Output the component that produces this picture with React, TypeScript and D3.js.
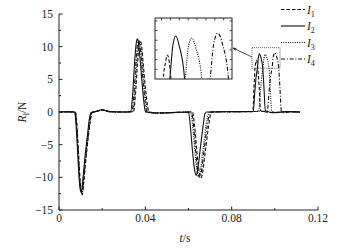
import React from "react";
import * as d3 from "d3";

type Pt = [number, number];

const seriesI1: Pt[] = [[0,0],[0.005,0.02],[0.0076,0],[0.0082,-1.5],[0.0090,-6],[0.0098,-10.5],[0.0104,-12.4],[0.0108,-12.7],[0.0114,-11],[0.0124,-7.5],[0.0136,-3.8],[0.0147,-1],[0.0153,-0.1],[0.0175,0.1],[0.0205,0.3],[0.024,0.05],[0.031,0],[0.0345,0.05],[0.0355,3],[0.0364,7.5],[0.0371,10.2],[0.0376,10.9],[0.0381,10.5],[0.0390,7.5],[0.0401,3.5],[0.0411,0.8],[0.0416,0],[0.046,-0.15],[0.056,-0.05],[0.0618,0],[0.0628,-2],[0.0640,-6.5],[0.0651,-9.4],[0.0658,-10.1],[0.0664,-9.5],[0.0678,-6],[0.0693,-2.2],[0.0703,-0.3],[0.0710,0],[0.080,0.05],[0.0898,0.05],[0.0903,3.5],[0.0908,6.7],[0.0912,7.6],[0.0915,7.94],[0.0918,7.6],[0.0921,6.7],[0.0928,3.5],[0.0934,0.2],[0.099,-0.1],[0.105,0.05],[0.1117,0]];

const seriesI2: Pt[] = [[0,0],[0.004,0.05],[0.0072,0],[0.0078,-1.5],[0.0086,-6],[0.0094,-10.5],[0.0100,-12.1],[0.0104,-12.2],[0.0110,-10.5],[0.0120,-7],[0.0132,-3.5],[0.0142,-0.8],[0.0148,-0.1],[0.017,0.1],[0.020,0.35],[0.023,0.05],[0.030,0],[0.0332,0.05],[0.0341,2.5],[0.0350,7.5],[0.0357,10.3],[0.0362,11.2],[0.0367,10.8],[0.0376,8],[0.0386,4],[0.0396,0.8],[0.0401,0],[0.045,-0.15],[0.055,-0.05],[0.0600,0],[0.0608,-2],[0.0620,-6.5],[0.0630,-9.2],[0.0636,-9.7],[0.0642,-9],[0.0655,-5.5],[0.0668,-2],[0.0677,-0.2],[0.0685,0],[0.080,0.05],[0.0900,0.1],[0.0907,3],[0.0914,5.6],[0.0919,6.7],[0.0924,8.4],[0.0929,8.92],[0.0935,8.4],[0.0944,6.7],[0.0950,3.5],[0.0956,0.2],[0.100,-0.1],[0.105,0.05],[0.1117,0]];

const seriesI3: Pt[] = [[0,0],[0.005,0.03],[0.0074,0],[0.0080,-1.5],[0.0088,-6],[0.0096,-10.5],[0.0101,-12.1],[0.0106,-12.4],[0.0112,-10.8],[0.0122,-7.2],[0.0134,-3.6],[0.0144,-0.9],[0.0150,-0.1],[0.0172,0.1],[0.0203,0.3],[0.0235,0.05],[0.030,0],[0.0342,0.05],[0.0351,2.8],[0.0360,7.5],[0.0367,10.1],[0.0372,10.8],[0.0377,10.5],[0.0386,7.8],[0.0396,3.8],[0.0406,0.8],[0.0411,0],[0.0455,-0.15],[0.0555,-0.05],[0.0610,0],[0.0619,-2],[0.0631,-6.5],[0.0641,-9.3],[0.0647,-9.9],[0.0653,-9.3],[0.0667,-5.8],[0.0681,-2.1],[0.0692,-0.3],[0.0699,0],[0.080,0.05],[0.0925,0.1],[0.0933,3],[0.0940,5.6],[0.0945,6.7],[0.0950,8.3],[0.0956,8.82],[0.0963,8.3],[0.0973,6.7],[0.0979,3.5],[0.0985,0.2],[0.1010,-0.1],[0.106,0.05],[0.1117,0]];

const seriesI4: Pt[] = [[0,0],[0.005,0.02],[0.0075,0],[0.0081,-1.5],[0.0089,-6],[0.0097,-10.5],[0.0103,-12.3],[0.0107,-12.5],[0.0113,-10.9],[0.0123,-7.3],[0.0135,-3.7],[0.0146,-0.9],[0.0152,-0.1],[0.0174,0.1],[0.0204,0.3],[0.0238,0.05],[0.030,0],[0.0338,0.05],[0.0347,2.6],[0.0356,7.5],[0.0363,10.2],[0.0368,11],[0.0373,10.6],[0.0382,7.8],[0.0392,3.8],[0.0402,0.8],[0.0407,0],[0.0452,-0.15],[0.0552,-0.05],[0.0614,0],[0.0623,-2],[0.0635,-6.5],[0.0645,-9.5],[0.0652,-10.0],[0.0658,-9.4],[0.0672,-5.9],[0.0687,-2.1],[0.0697,-0.3],[0.0704,0],[0.080,0.05],[0.0965,0.1],[0.0973,3],[0.0981,5.6],[0.0987,6.7],[0.0993,8.5],[0.1000,9.07],[0.1008,8.5],[0.1018,6.7],[0.1024,3.5],[0.1030,0.2],[0.104,-0.1],[0.108,0.05],[0.1117,0]];

const legendNames = ["1", "2", "3", "4"];
const xTickValues = [0, 0.04, 0.08, 0.12];
const xTickLabels = ["0", "0.04", "0.08", "0.12"];
const xMinorValues = [0.02, 0.06, 0.1];
const yTickValues = [-15, -10, -5, 0, 5, 10, 15];
const yTickLabels = ["\u221215", "\u221210", "\u22125", "0", "5", "10", "15"];
const yMinorValues = [-12.5, -7.5, -2.5, 2.5, 7.5, 12.5];
const insetXDomain: [number, number] = [0.0894, 0.1024];
const insetYDomain: [number, number] = [6.7, 9.85];

const dashes = ["3.5,2", "none", "1,1.3", "4,1.8,1,1.8"];
const FONT = "Liberation Serif, Times New Roman, DejaVu Serif, serif";
const txt: React.CSSProperties = { fontFamily: FONT };

export default function App() {
  const series = [seriesI1, seriesI2, seriesI3, seriesI4];
  const x = d3.scaleLinear().domain([0, 0.12]).range([59, 318]);
  const y = d3.scaleLinear().domain([-15, 15]).range([210, 14]);
  const ix = d3.scaleLinear().domain(insetXDomain).range([155, 232]);
  const iy = d3.scaleLinear().domain(insetYDomain).range([79, 18]);

  const line = d3.line<Pt>().x(d => x(d[0])).y(d => y(d[1])).curve(d3.curveMonotoneX);
  const iline = d3.line<Pt>().x(d => ix(d[0])).y(d => iy(d[1])).curve(d3.curveMonotoneX);

  const ixTicks = d3.range(0.0905, insetXDomain[1], 0.0015);
  const iyTicks = d3.range(7.2, insetYDomain[1], 0.5);

  const boxX0 = x(insetXDomain[0]);
  const boxX1 = x(insetXDomain[1]);
  const boxY0 = y(insetYDomain[1]);
  const boxY1 = y(insetYDomain[0]);

  const legendY = [9.5, 26, 42.5, 59];

  return (
    <svg width={353} height={250} style={{ position: "absolute", left: 0, top: 0, background: "#fff" }}>
      <defs>
        <clipPath id="insetClip">
          <rect x={155} y={18} width={77} height={61} />
        </clipPath>
        <marker id="arrowHead" viewBox="0 0 10 10" refX="9" refY="5" markerWidth="6" markerHeight="5" orient="auto">
          <path d="M0,1 L10,5 L0,9 L2.5,5 Z" fill="#222" />
        </marker>
      </defs>

      {series.map((s, i) => (
        <path key={i} d={line(s) || ""} fill="none" stroke="#111" strokeWidth={1.1} strokeDasharray={dashes[i]} />
      ))}

      <line x1={59} x2={59} y1={14} y2={210} stroke="#222" strokeWidth={1} />
      <line x1={59} x2={318} y1={210} y2={210} stroke="#222" strokeWidth={1} />
      {yTickValues.map((v, i) => (
        <g key={"yt" + i}>
          <line x1={59} x2={62.5} y1={y(v)} y2={y(v)} stroke="#222" strokeWidth={1} />
          <text x={53} y={y(v)} dy="0.35em" textAnchor="end" fontSize={11.5} fill="#222" style={txt}>{yTickLabels[i]}</text>
        </g>
      ))}
      {yMinorValues.map((v, i) => (
        <line key={"ym" + i} x1={59} x2={61} y1={y(v)} y2={y(v)} stroke="#222" strokeWidth={1} />
      ))}
      {xTickValues.map((v, i) => (
        <g key={"xt" + i}>
          <line x1={x(v)} x2={x(v)} y1={210} y2={206.5} stroke="#222" strokeWidth={1} />
          <text x={x(v)} y={222} textAnchor="middle" fontSize={11.5} fill="#222" style={txt}>{xTickLabels[i]}</text>
        </g>
      ))}
      {xMinorValues.map((v, i) => (
        <line key={"xm" + i} x1={x(v)} x2={x(v)} y1={210} y2={208} stroke="#222" strokeWidth={1} />
      ))}

      <text x={185} y={242} textAnchor="middle" fontSize={11.5} fill="#222" style={txt}>
        <tspan fontStyle="italic">t</tspan>/s
      </text>
      <text transform="translate(26,112) rotate(-90)" textAnchor="middle" fontSize={11.5} fill="#222" style={txt}>
        <tspan fontStyle="italic">R</tspan>
        <tspan fontSize={8} dy={3}>l</tspan>
        <tspan dy={-3}>/N</tspan>
      </text>

      <rect x={boxX0} y={boxY0} width={boxX1 - boxX0} height={boxY1 - boxY0} fill="none" stroke="#333" strokeWidth={0.8} strokeDasharray="1,1" />

      <rect x={155} y={18} width={77} height={61} fill="#fff" stroke="none" />
      <g clipPath="url(#insetClip)">
        {series.map((s, i) => (
          <path key={"in" + i} d={iline(s) || ""} fill="none" stroke="#111" strokeWidth={1.1} strokeDasharray={dashes[i]} />
        ))}
      </g>
      <rect x={155} y={18} width={77} height={61} fill="none" stroke="#222" strokeWidth={1} />
      {ixTicks.map((v, i) => (
        <line key={"ixt" + i} x1={ix(v)} x2={ix(v)} y1={18} y2={20.5} stroke="#222" strokeWidth={0.8} />
      ))}
      {iyTicks.map((v, i) => (
        <g key={"iyt" + i}>
          <line x1={155} x2={157.5} y1={iy(v)} y2={iy(v)} stroke="#222" strokeWidth={0.8} />
          <line x1={232} x2={229.5} y1={iy(v)} y2={iy(v)} stroke="#222" strokeWidth={0.8} />
        </g>
      ))}

      <line x1={boxX0} y1={57} x2={233} y2={48} stroke="#222" strokeWidth={0.8} markerEnd="url(#arrowHead)" />

      {legendNames.map((n, i) => (
        <g key={"lg" + i}>
          <line x1={281} x2={305} y1={legendY[i]} y2={legendY[i]} stroke="#111" strokeWidth={1.1} strokeDasharray={dashes[i]} />
          <text x={307} y={legendY[i] + 4} fontSize={11.5} fill="#222" style={txt}>
            <tspan fontStyle="italic">I</tspan>
            <tspan fontSize={8} dy={3}>{n}</tspan>
          </text>
        </g>
      ))}
    </svg>
  );
}
